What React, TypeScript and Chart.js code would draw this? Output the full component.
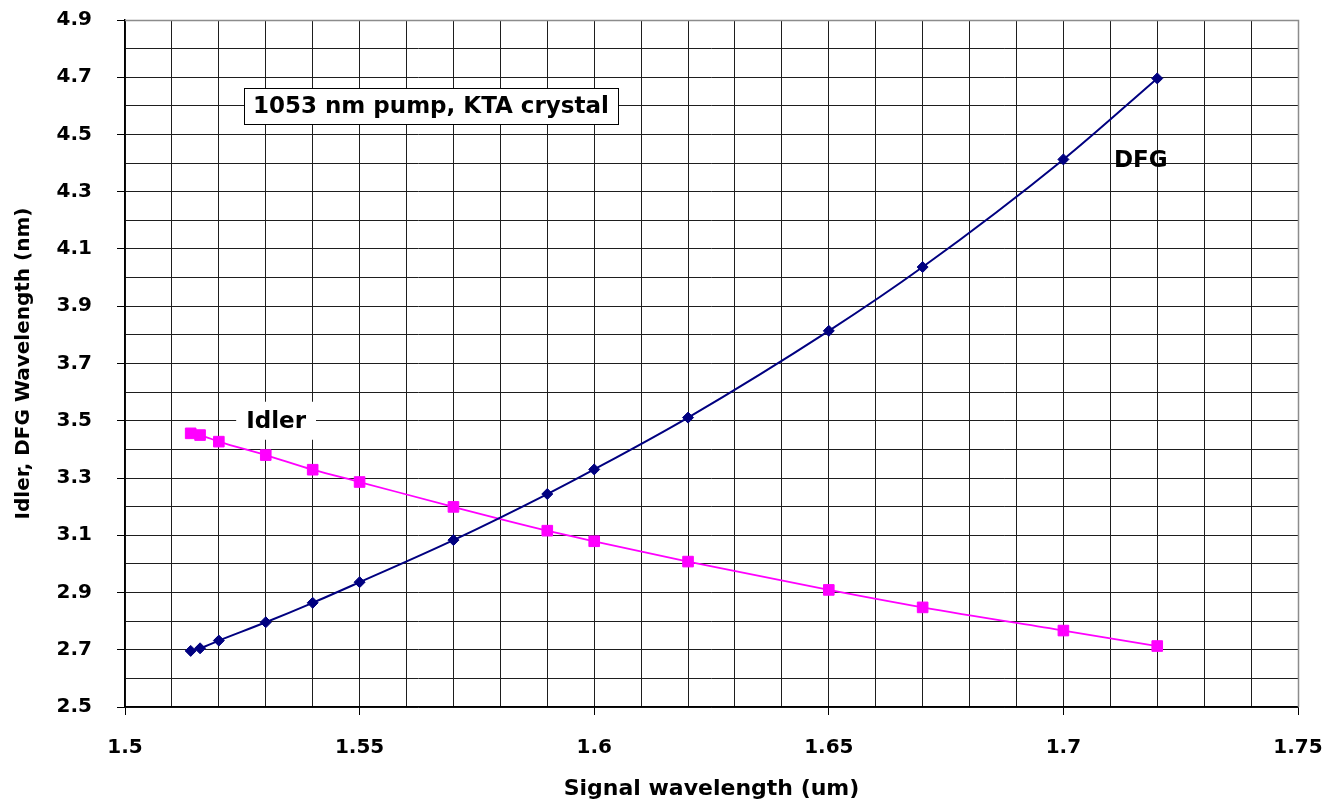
import React, { useEffect, useRef } from "react";
import { Chart, registerables } from "chart.js";

Chart.register(...registerables);

// Signal wavelength (um)
const signalWavelength = [1.514, 1.516, 1.52, 1.53, 1.54, 1.55, 1.57, 1.59, 1.6, 1.62, 1.65, 1.67, 1.7, 1.72];
// Idler wavelength
const idlerValues = [3.456, 3.45, 3.427, 3.38, 3.329, 3.286, 3.199, 3.116, 3.079, 3.008, 2.909, 2.848, 2.767, 2.713];
// DFG wavelength
const dfgValues = [2.696, 2.705, 2.732, 2.796, 2.864, 2.936, 3.083, 3.244, 3.33, 3.511, 3.814, 4.037, 4.413, 4.696];

const xMin = 1.5;
const xMax = 1.75;
const yMin = 2.5;
const yMax = 4.9;
const xLabelStep = 0.05;
const yLabelStep = 0.2;

const xTitle = "Signal wavelength (um)";
const yTitle = "Idler, DFG Wavelength (nm)";

const boxLabel = { text: "1053 nm pump, KTA crystal", x: 1.5652, y: 4.6 };
const idlerLabel = { text: "Idler", x: 1.5322, y: 3.5 };
const dfgLabel = { text: "DFG", x: 1.7165, y: 4.41 };

const FONT = "'DejaVu Sans', sans-serif";

const isMultiple = (v: number, base: number, step: number) => {
  const q = (v - base) / step;
  return Math.abs(q - Math.round(q)) < 1e-6;
};

const annotationPlugin = {
  id: "annotations",
  beforeDatasetsDraw(chart: any) {
    const ctx = chart.ctx as CanvasRenderingContext2D;
    const xs = chart.scales.x;
    const ys = chart.scales.y;
    ctx.save();
    ctx.font = `bold 23px ${FONT}`;
    ctx.textAlign = "center";
    ctx.textBaseline = "middle";
    ctx.fillStyle = "#000";

    // Box label
    {
      const cx = xs.getPixelForValue(boxLabel.x);
      const cy = ys.getPixelForValue(boxLabel.y);
      const w = ctx.measureText(boxLabel.text).width;
      const bw = w + 18;
      const bh = 36;
      const left = Math.round(cx - bw / 2) + 0.5;
      const top = Math.round(cy - bh / 2) + 0.5;
      ctx.fillStyle = "#fff";
      ctx.fillRect(left, top, Math.round(bw), bh);
      ctx.strokeStyle = "#000";
      ctx.lineWidth = 1;
      ctx.strokeRect(left, top, Math.round(bw), bh);
      ctx.fillStyle = "#000";
      ctx.fillText(boxLabel.text, cx, cy + 1);
    }

    // Idler label with white background
    {
      const cx = xs.getPixelForValue(idlerLabel.x);
      const cy = ys.getPixelForValue(idlerLabel.y);
      const w = ctx.measureText(idlerLabel.text).width;
      ctx.fillStyle = "#fff";
      ctx.fillRect(cx - w / 2 - 10, cy - 19, w + 20, 38);
      ctx.fillStyle = "#000";
      ctx.fillText(idlerLabel.text, cx, cy + 1);
    }

    // DFG label (no background)
    {
      const cx = xs.getPixelForValue(dfgLabel.x);
      const cy = ys.getPixelForValue(dfgLabel.y);
      ctx.fillText(dfgLabel.text, cx, cy + 1);
    }
    ctx.restore();
  },
  afterDraw(chart: any) {
    const ctx = chart.ctx as CanvasRenderingContext2D;
    const a = chart.chartArea;
    ctx.save();
    ctx.strokeStyle = "#8c8c8c";
    ctx.lineWidth = 1.5;
    ctx.beginPath();
    ctx.moveTo(Math.round(a.left), Math.round(a.top) + 0.5);
    ctx.lineTo(Math.round(a.right) + 0.5, Math.round(a.top) + 0.5);
    ctx.lineTo(Math.round(a.right) + 0.5, Math.round(a.bottom));
    ctx.stroke();
    ctx.restore();
  },
};

const zeroPad = (scale: any) => {
  scale.paddingTop = 0;
  scale.paddingBottom = 0;
  scale.paddingLeft = 0;
  scale.paddingRight = 0;
};

export default function App() {
  const canvasRef = useRef<HTMLCanvasElement | null>(null);

  useEffect(() => {
    const canvas = canvasRef.current;
    if (!canvas) return;
    const chart = new Chart(canvas, {
      type: "line",
      data: {
        datasets: [
          {
            label: "DFG",
            data: signalWavelength.map((x, i) => ({ x, y: dfgValues[i] })),
            borderColor: "#000080",
            backgroundColor: "#000080",
            borderWidth: 2,
            pointStyle: "rectRot",
            pointRadius: 5.5,
            pointBorderWidth: 1,
            pointBackgroundColor: "#000080",
            pointBorderColor: "#000080",
            cubicInterpolationMode: "monotone",
            fill: false,
          },
          {
            label: "Idler",
            data: signalWavelength.map((x, i) => ({ x, y: idlerValues[i] })),
            borderColor: "#ff00ff",
            backgroundColor: "#ff00ff",
            borderWidth: 1.8,
            pointStyle: "rect",
            pointRadius: 7.5,
            pointBorderWidth: 1,
            pointBackgroundColor: "#ff00ff",
            pointBorderColor: "#ff00ff",
            cubicInterpolationMode: "monotone",
            fill: false,
          },
        ],
      },
      options: {
        animation: false,
        responsive: false,
        maintainAspectRatio: false,
        layout: { padding: { top: 20, right: 26, left: 0, bottom: 0 } },
        plugins: {
          legend: { display: false },
          tooltip: { enabled: false },
        },
        scales: {
          x: {
            type: "linear",
            min: xMin,
            max: xMax,
            afterFit: (scale: any) => {
              scale.height = 99;
              zeroPad(scale);
            },
            ticks: {
              stepSize: 0.01,
              autoSkip: false,
              maxRotation: 0,
              minRotation: 0,
              padding: 21,
              color: "#000",
              font: { family: FONT, weight: "bold", size: 20 },
              callback: (v: any) => {
                const n = Number(v);
                return isMultiple(n, xMin, xLabelStep) ? String(Number(n.toFixed(2))) : "";
              },
            },
            grid: {
              color: "#1e1e1e",
              lineWidth: 1,
              drawTicks: true,
              tickLength: 8,
              tickColor: (c: any) =>
                c.tick && isMultiple(c.tick.value, xMin, xLabelStep) ? "#000" : "rgba(0,0,0,0)",
            },
            border: { display: true, color: "#000", width: 1.5 },
            title: {
              display: true,
              text: xTitle,
              color: "#000",
              font: { family: FONT, weight: "bold", size: 22 },
              padding: { top: 0, bottom: 4 },
            },
          },
          y: {
            type: "linear",
            min: yMin,
            max: yMax,
            afterFit: (scale: any) => {
              scale.width = 125;
              zeroPad(scale);
            },
            ticks: {
              stepSize: 0.1,
              autoSkip: false,
              padding: 25,
              color: "#000",
              font: { family: FONT, weight: "bold", size: 20 },
              callback: (v: any) => {
                const n = Number(v);
                return isMultiple(n, yMin, yLabelStep) ? n.toFixed(1) : "";
              },
            },
            grid: {
              color: "#1e1e1e",
              lineWidth: 1,
              drawTicks: true,
              tickLength: 8,
              tickColor: (c: any) =>
                c.tick && isMultiple(c.tick.value, yMin, yLabelStep) ? "#000" : "rgba(0,0,0,0)",
            },
            border: { display: true, color: "#000", width: 1.5 },
            title: {
              display: true,
              text: yTitle,
              color: "#000",
              font: { family: FONT, weight: "bold", size: 20 },
              padding: { top: 12, bottom: 0 },
            },
          },
        },
      },
      plugins: [annotationPlugin],
    } as any);
    return () => chart.destroy();
  }, []);

  return (
    <div style={{ position: "fixed", left: 0, top: 0, width: 1324, height: 806, background: "#fff" }}>
      <canvas ref={canvasRef} width={1324} height={806} style={{ display: "block", width: 1324, height: 806 }} />
    </div>
  );
}
